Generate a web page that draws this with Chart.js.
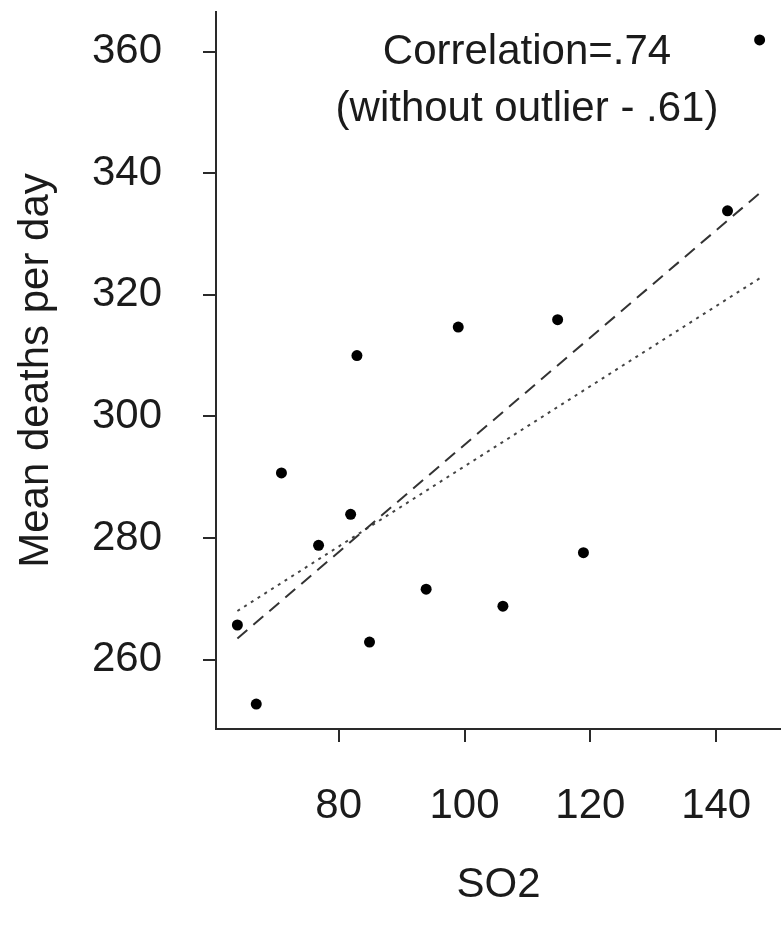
<!DOCTYPE html>
<html lang="en">
  <head>
    <meta charset="UTF-8" />
    <title>SO2 vs mean deaths per day</title>
    <script src="https://cdn.jsdelivr.net/npm/chart.js"></script>
    <style>
      html,
      body {
        margin: 0;
        padding: 0;
        background: #ffffff;
        overflow: hidden;
      }
      canvas {
        display: block;
      }
    </style>
  </head>
  <body>
    <canvas id="so2Chart" width="781" height="933"></canvas>

    <script>
      // SO2 level and mean deaths per day for each observation
      const so2 = [
        63.9, 66.9, 70.9, 76.8, 81.9, 82.9, 84.9, 93.9, 99.0, 106.1, 114.8,
        118.9, 141.8, 146.9,
      ];
      const deaths = [
        265.7, 252.7, 290.7, 278.8, 283.9, 310.0, 262.9, 271.6, 314.7, 268.8,
        315.9, 277.6, 333.8, 361.9,
      ];

      // fitted lines over the SO2 range: all points, and outlier removed
      const fitX = [63.9, 146.9];
      const fitAll = [263.5, 336.7];
      const fitWithoutOutlier = [268.0, 322.7];

      const xTicks = [80, 100, 120, 140];
      const yTicks = [260, 280, 300, 320, 340, 360];

      const noteLines = ["Correlation=.74", "(without outlier - .61)"];

      const FONT = "Arial, 'Liberation Sans', Helvetica, sans-serif";
      const INK = "#1b1b1b";
      const AXIS = "#2a2a2a";

      const toPoints = (xs, ys) => xs.map((x, i) => ({ x: x, y: ys[i] }));

      // writes the correlation note in the upper part of the plot
      const correlationNote = {
        id: "correlationNote",
        afterDraw(chart) {
          const ctx = chart.ctx;
          const area = chart.chartArea;
          ctx.save();
          ctx.font = "42px " + FONT;
          ctx.fillStyle = INK;
          ctx.textAlign = "center";
          ctx.textBaseline = "middle";
          ctx.fillText(noteLines[0], area.left + 311, area.top + 40);
          ctx.fillText(noteLines[1], area.left + 311, area.top + 97);
          ctx.restore();
        },
      };

      const ctx = document.getElementById("so2Chart").getContext("2d");

      new Chart(ctx, {
        type: "scatter",
        data: {
          datasets: [
            {
              label: "Observations",
              data: toPoints(so2, deaths),
              backgroundColor: "#000000",
              borderColor: "#000000",
              pointRadius: 5.5,
              pointBorderWidth: 0,
            },
            {
              label: "Fit (all)",
              type: "line",
              data: toPoints(fitX, fitAll),
              borderColor: "#333333",
              borderWidth: 2,
              borderDash: [13, 8],
              pointRadius: 0,
              fill: false,
            },
            {
              label: "Fit (without outlier)",
              type: "line",
              data: toPoints(fitX, fitWithoutOutlier),
              borderColor: "#444444",
              borderWidth: 2,
              borderDash: [3, 5],
              pointRadius: 0,
              fill: false,
            },
          ],
        },
        options: {
          responsive: false,
          animation: false,
          layout: {
            autoPadding: false,
            padding: { top: 12, right: 0, bottom: 0, left: 0 },
          },
          plugins: {
            legend: { display: false },
            tooltip: { enabled: false },
          },
          scales: {
            x: {
              type: "linear",
              min: 60.5,
              max: 150.3,
              afterBuildTicks: (scale) => {
                scale.ticks = xTicks.map((v) => ({ value: v }));
              },
              afterFit: (scale) => {
                // fixed height, and no extra room for the end labels
                scale.height = 204;
                scale.paddingLeft = 0;
                scale.paddingRight = 0;
              },
              grid: {
                drawOnChartArea: false,
                drawTicks: true,
                tickLength: 13,
                color: AXIS,
                lineWidth: 2,
              },
              border: { display: true, color: AXIS, width: 2 },
              ticks: {
                autoSkip: false,
                maxRotation: 0,
                padding: 39,
                color: INK,
                font: { family: FONT, size: 42 },
              },
              title: {
                display: true,
                text: "SO2",
                color: INK,
                font: { family: FONT, size: 42 },
                padding: { top: 0, bottom: 22 },
              },
            },
            y: {
              type: "linear",
              min: 248.6,
              max: 366.5,
              afterBuildTicks: (scale) => {
                scale.ticks = yTicks.map((v) => ({ value: v }));
              },
              afterFit: (scale) => {
                scale.width = 216;
                scale.paddingTop = 0;
                scale.paddingBottom = 0;
              },
              grid: {
                drawOnChartArea: false,
                drawTicks: true,
                tickLength: 13,
                color: AXIS,
                lineWidth: 2,
              },
              border: { display: true, color: AXIS, width: 2 },
              ticks: {
                autoSkip: false,
                padding: 41,
                color: INK,
                font: { family: FONT, size: 42 },
              },
              title: {
                display: true,
                text: "Mean deaths per day",
                color: INK,
                font: { family: FONT, size: 42 },
                padding: { top: 11, bottom: 0 },
              },
            },
          },
        },
        plugins: [correlationNote],
      });
    </script>
  </body>
</html>
